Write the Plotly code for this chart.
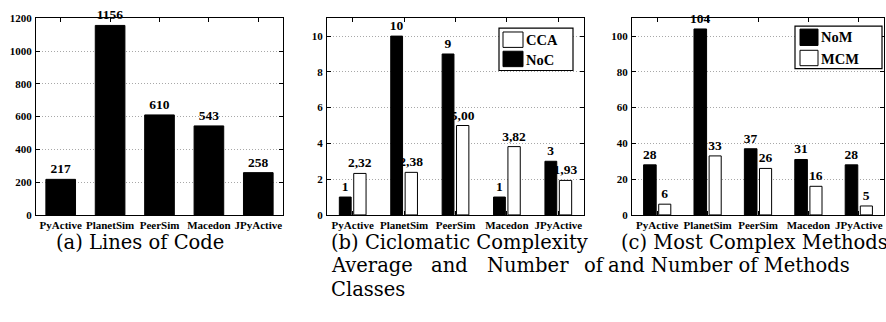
import plotly.graph_objects as go

# ---------------- data ----------------
projects = ["PyActive", "PlanetSim", "PeerSim", "Macedon", "JPyActive"]

loc = [217, 1156, 610, 543, 258]

noc = [1, 10, 9, 1, 3]
cca = [2.32, 2.38, 5.00, 3.82, 1.93]
cca_labels = ["2,32", "2,38", "5,00", "3,82", "1,93"]

nom = [28, 104, 37, 31, 28]
mcm = [6, 33, 26, 16, 5]

yticks_a = [0, 200, 400, 600, 800, 1000, 1200]
yticks_b = [0, 2, 4, 6, 8, 10]
yticks_c = [0, 20, 40, 60, 80, 100]

# ---------------- layout helpers ----------------
W, H = 886, 322
def px(x):
    return x / W
def py(y):
    return 1 - y / H

SERIF = "Liberation Serif, Times New Roman, Times, Tinos, DejaVu Serif, serif"
CAPSERIF = "DejaVu Serif, serif"
lab_font = dict(family=SERIF, size=13.5, color="black", weight="bold")

fig = go.Figure()

def bar(x, y, xa, ya, fill, width, offset, text):
    fig.add_trace(go.Bar(
        x=x, y=y, xaxis=xa, yaxis=ya,
        marker=dict(color=fill, line=dict(color="black", width=1)),
        width=width, offset=offset,
        text=text, textposition="outside", textfont=lab_font,
        constraintext="none", cliponaxis=False, showlegend=False,
        hoverinfo="skip",
    ))

bar(projects, loc, "x", "y", "black", 0.6, -0.3, [str(v) for v in loc])
bar(projects, noc, "x2", "y2", "black", 0.23, -0.26, [str(v) for v in noc])
bar(projects, cca, "x2", "y2", "white", 0.24, 0.02, cca_labels)
bar(projects, nom, "x3", "y3", "black", 0.25, -0.27, [str(v) for v in nom])
bar(projects, mcm, "x3", "y3", "white", 0.24, 0.03, [str(v) for v in mcm])

ydom = [py(217), py(12.7)]
xdoms = [[px(36), px(283)], [px(327), px(584)], [px(632), px(884)]]
yranges = [[0, 1200], [0, 11], [0, 110]]
ytickss = [yticks_a, yticks_b, yticks_c]

tick_font = dict(family=SERIF, size=11, color="black", weight="bold")
for i in range(3):
    sx = "" if i == 0 else str(i + 1)
    fig.layout["xaxis" + sx] = dict(
        domain=xdoms[i], anchor="y" + sx, type="category",
        range=[-0.5, 4.5], showline=True, linecolor="black", linewidth=1,
        mirror="ticks", ticks="inside", ticklen=4, tickcolor="black",
        tickangle=0, tickfont=tick_font, showgrid=False, zeroline=False,
        ticklabelstandoff=0, fixedrange=True,
    )
    fig.layout["yaxis" + sx] = dict(
        domain=ydom, anchor="x" + sx, range=yranges[i],
        tickvals=ytickss[i], showline=True, linecolor="black", linewidth=1,
        mirror="ticks", ticks="inside", ticklen=4, tickcolor="black",
        tickfont=dict(family=SERIF, size=11, color="black", weight="bold"),
        showgrid=True, gridcolor="#a8a8a8", griddash="1px,2px", gridwidth=1,
        zeroline=False, ticklabelstandoff=1, fixedrange=True,
    )

shapes = []
annotations = []

def legend_box(x0, x1, y0, y1, items):
    shapes.append(dict(type="rect", xref="paper", yref="paper",
                       x0=px(x0), x1=px(x1), y0=py(y1), y1=py(y0),
                       line=dict(color="black", width=1.2), fillcolor="white"))
    for (sx0, sx1, sy0, sy1, fill, label, tx, ty) in items:
        shapes.append(dict(type="rect", xref="paper", yref="paper",
                           x0=px(sx0), x1=px(sx1), y0=py(sy1), y1=py(sy0),
                           line=dict(color="black", width=1), fillcolor=fill))
        annotations.append(dict(xref="paper", yref="paper", x=px(tx), y=py(ty),
                                xanchor="left", yanchor="middle", showarrow=False,
                                text=label,
                                font=dict(family=SERIF, size=14.5, color="black",
                                          weight="bold")))

legend_box(499, 573, 23, 67, [
    (503, 523, 27, 43, "white", "CCA", 524, 35),
    (503, 523, 47, 63, "black", "NoC", 524, 56),
])
legend_box(795, 882, 21, 65, [
    (800, 818, 24, 41, "black", "NoM", 819, 32),
    (800, 818, 46, 62, "white", "MCM", 819, 55),
])

# captions
cap_font = dict(family=CAPSERIF, size=19.5, color="black")
captions = [
    ("(a) Lines of Code", 54, 246),
    ("(b) Ciclomatic Complexity", 329, 246),
    ("(c) Most Complex Methods", 619, 246),
    ("Average", 329, 270),
    ("and", 429, 270),
    ("Number", 485, 270),
    ("of", 582, 270),
    ("and Number of Methods", 606, 270),
    ("Classes", 329, 294),
]
for text, x, y in captions:
    annotations.append(dict(xref="paper", yref="paper", x=px(x), y=py(y),
                            xanchor="left", yanchor="middle", showarrow=False,
                            text=text, font=cap_font))

fig.update_layout(
    width=W, height=H, margin=dict(l=0, r=0, t=0, b=0),
    paper_bgcolor="white", plot_bgcolor="white",
    barmode="overlay", showlegend=False,
    shapes=shapes, annotations=annotations,
)

fig.write_html(
    "out.html",
    config={"displayModeBar": False, "staticPlot": True},
    post_script="document.body.style.margin='0';document.body.style.overflow='hidden';",
)
